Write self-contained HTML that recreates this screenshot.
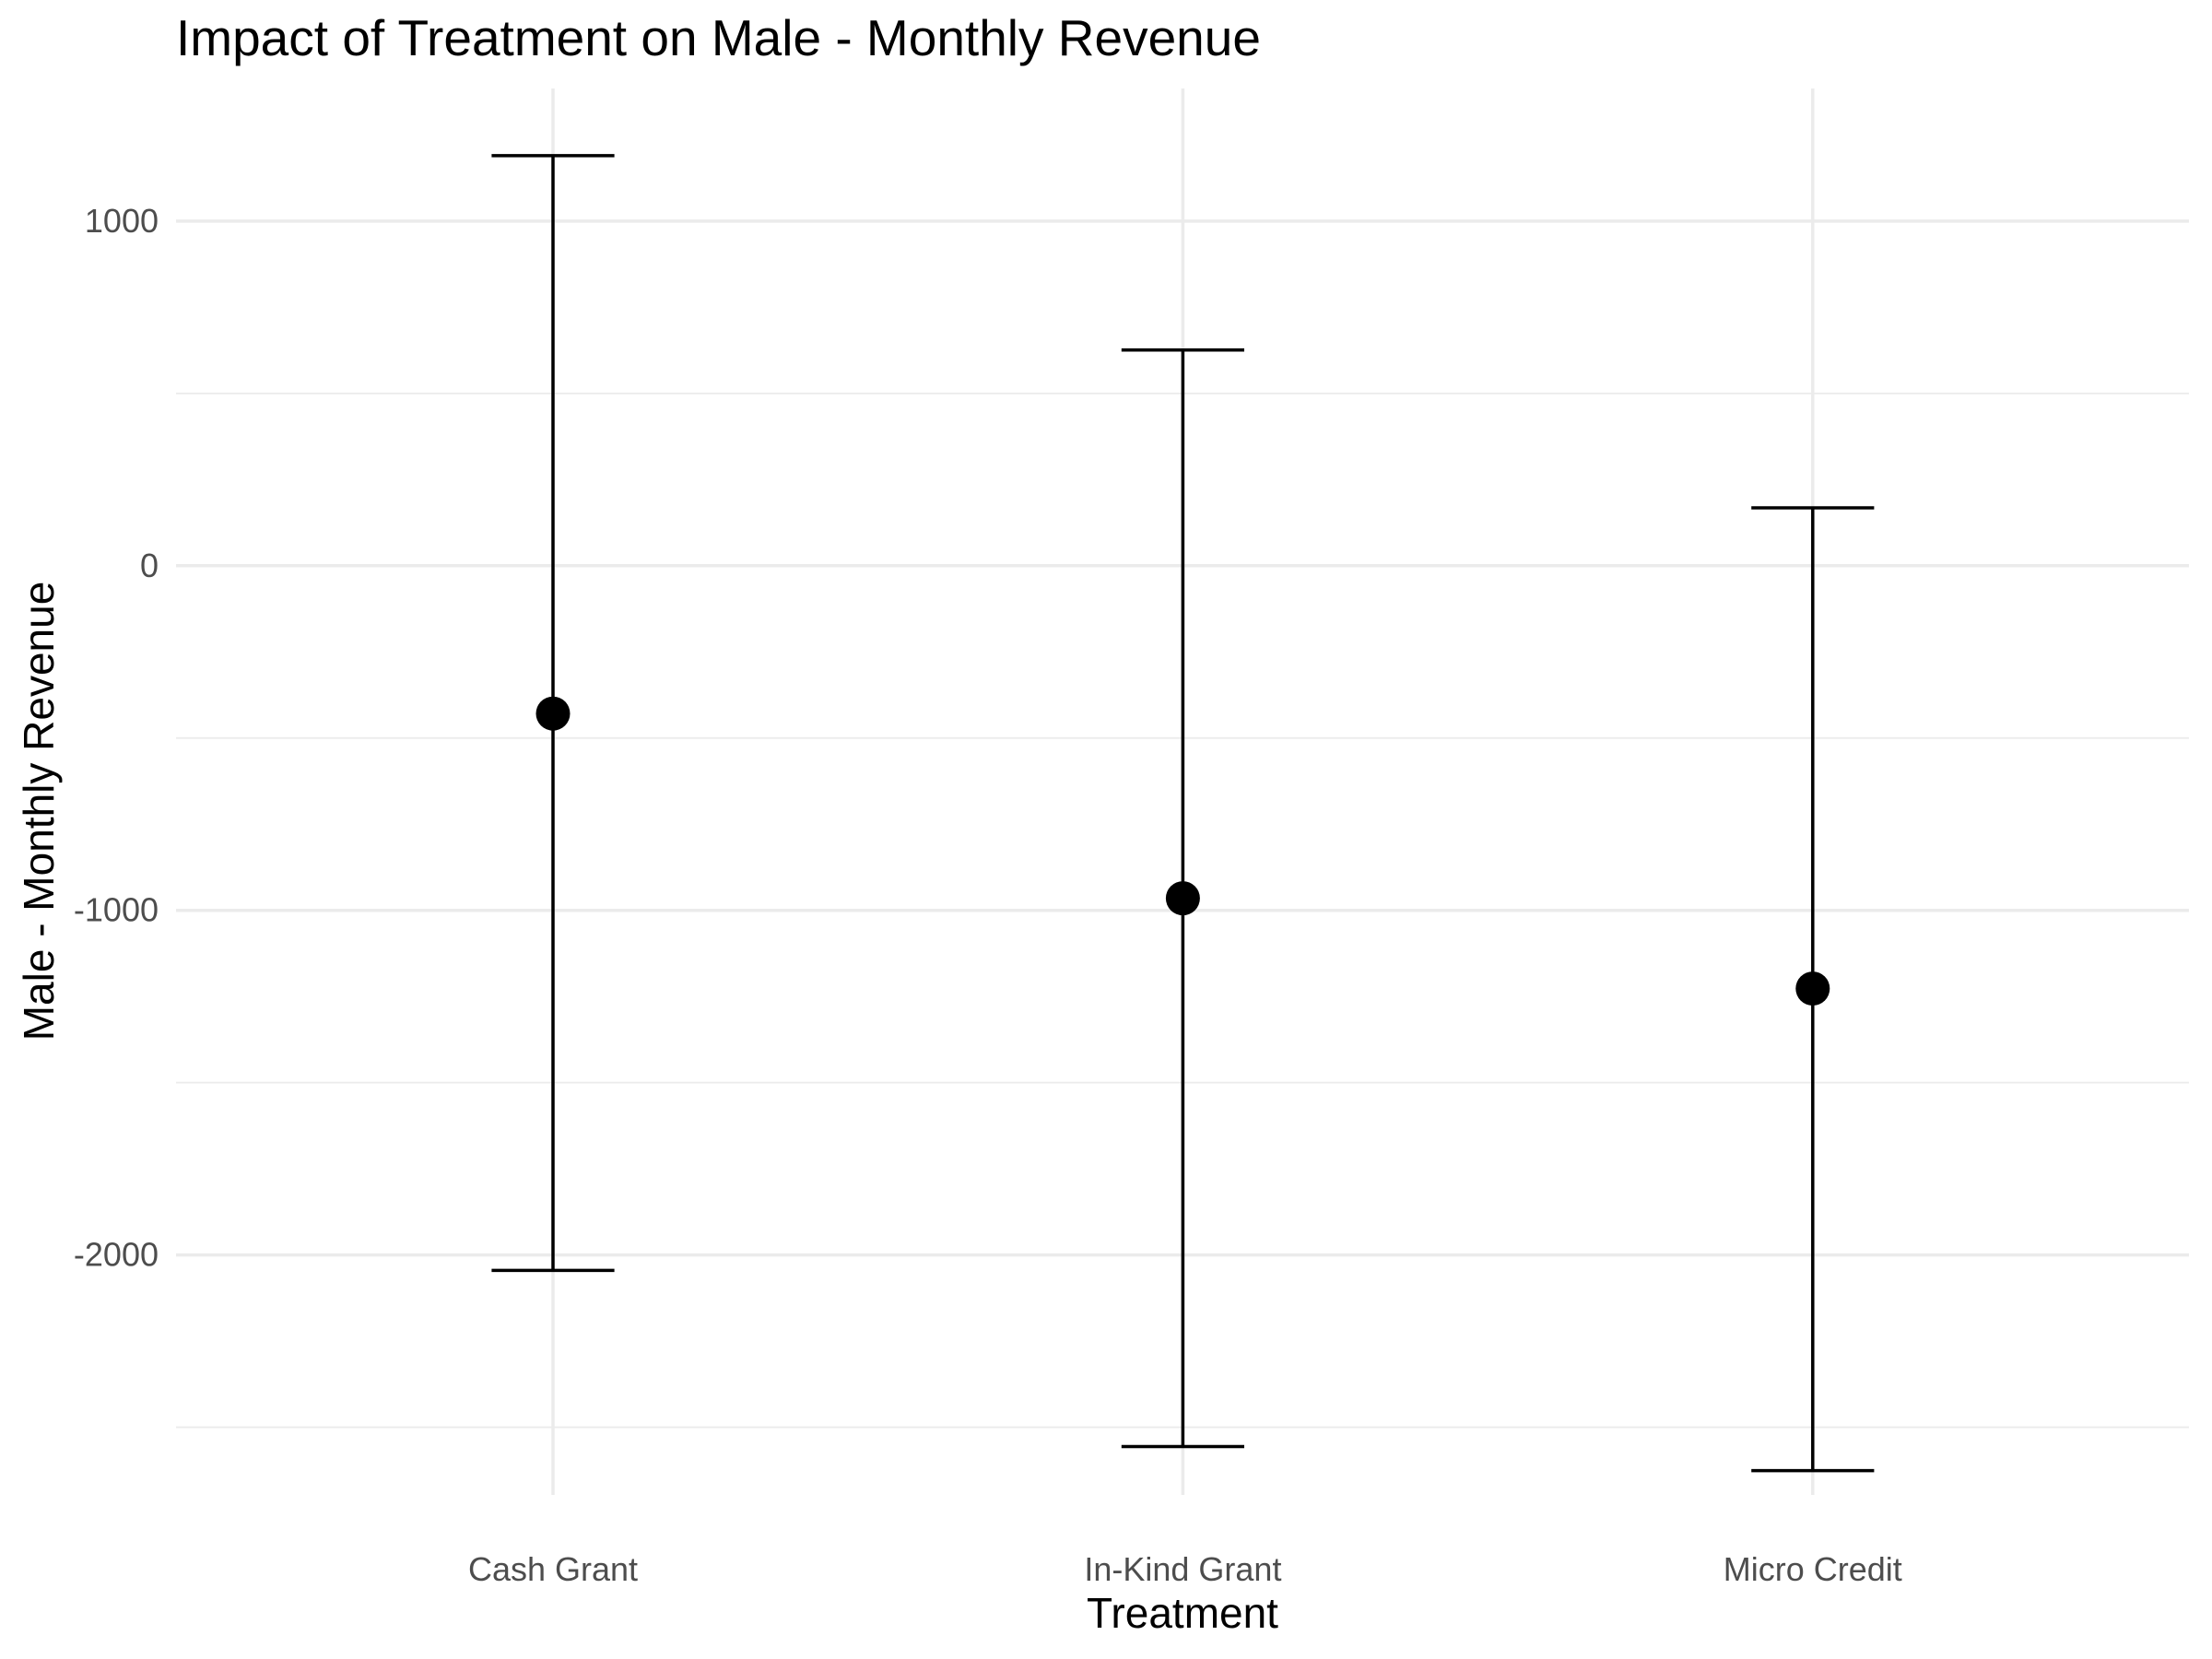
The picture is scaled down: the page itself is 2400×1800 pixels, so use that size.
<!DOCTYPE html>
<html><head><meta charset="utf-8"><style>
html,body{margin:0;padding:0;background:#fff;}
svg{display:block;font-family:"Liberation Sans",sans-serif;}
</style></head><body>
<svg id="chart" width="2400" height="1800" viewBox="0 0 2400 1800" xmlns="http://www.w3.org/2000/svg">
<text x="191" y="60" font-size="55" fill="#000">Impact of Treatment on Male - Monthly Revenue</text>
<g id="grid"></g>
<g id="yticks"></g>
<g id="xticks"></g>
<g id="marks"></g>
<text x="1283" y="1766" font-size="46" text-anchor="middle" fill="#000">Treatment</text>
<text transform="translate(58,880) rotate(-90)" font-size="46" text-anchor="middle" fill="#000">Male - Monthly Revenue</text>
</svg>
<script>
const categories = ["Cash Grant","In-Kind Grant","Micro Credit"];
const estimates = [-429, -965, -1227];
const upper = [1190, 626, 168];
const lower = [-2045, -2556, -2626];
const yTicks = [1000, 0, -1000, -2000];
const yMinor = [500, -500, -1500, -2500];

const NS="http://www.w3.org/2000/svg";
const left=191,right=2375;
function y(v){return 613.8 - v*0.3739;}
function x(i){return 600 + i*683.4;}
function mk(tag,attrs,parent){const e=document.createElementNS(NS,tag);for(const k in attrs)e.setAttribute(k,attrs[k]);parent.appendChild(e);return e;}
const grid=document.getElementById('grid'),yt=document.getElementById('yticks'),xt=document.getElementById('xticks'),marks=document.getElementById('marks');
yMinor.forEach(v=>{const l=mk('line',{x1:left,x2:right,y1:y(v),y2:y(v),stroke:'#ebebeb','stroke-width':1.8},grid);

});
yTicks.forEach(v=>{const l=mk('line',{x1:left,x2:right,y1:y(v),y2:y(v),stroke:'#ebebeb','stroke-width':3.5},grid);


const t=mk('text',{x:172,y:y(v)+12,'font-size':36,'text-anchor':'end',fill:'#4d4d4d'},yt);t.textContent=v;

});
categories.forEach((c,i)=>{const l=mk('line',{x1:x(i),x2:x(i),y1:96,y2:1622,stroke:'#ebebeb','stroke-width':3.5},grid);


const t=mk('text',{x:x(i),y:1715,'font-size':36,'text-anchor':'middle',fill:'#4d4d4d'},xt);t.textContent=c;


const g=mk('g',{},marks);


const w=66.6;
mk('line',{x1:x(i),x2:x(i),y1:y(upper[i]),y2:y(lower[i]),stroke:'#000','stroke-width':3.5},g);
mk('line',{x1:x(i)-w,x2:x(i)+w,y1:y(upper[i]),y2:y(upper[i]),stroke:'#000','stroke-width':3.5},g);
mk('line',{x1:x(i)-w,x2:x(i)+w,y1:y(lower[i]),y2:y(lower[i]),stroke:'#000','stroke-width':3.5},g);
const p=mk('circle',{cx:x(i),cy:y(estimates[i]),r:18.5,fill:'#000'},g);

});
</script>
</body></html>
